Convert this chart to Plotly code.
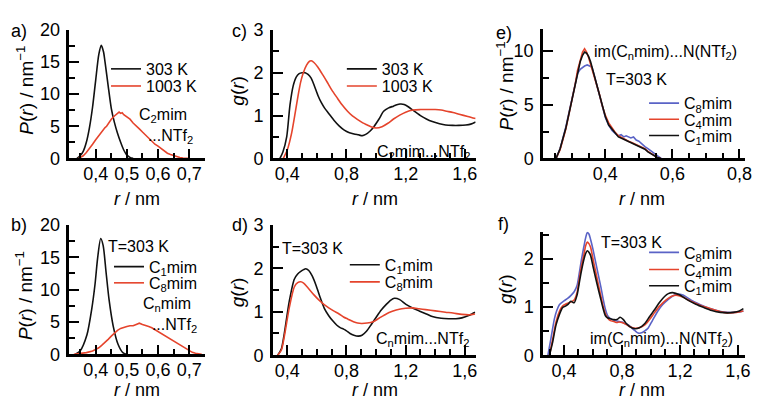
import plotly.graph_objects as go

# ---------------- data ----------------
# a) P(r) of C2mim...NTf2 at two temperatures
a_r_303 = [0.340, 0.350, 0.360, 0.370, 0.380, 0.390, 0.400, 0.410, 0.418, 0.425, 0.430, 0.440,
           0.450, 0.460, 0.470, 0.480, 0.490, 0.500, 0.510, 0.520]
a_p_303 = [0.0, 0.4, 1.1, 2.5, 4.8, 8.0, 12.2, 16.2, 17.6, 16.6, 15.0, 11.3,
           7.8, 5.6, 3.9, 2.5, 1.3, 0.5, 0.15, 0.0]
a_r_1003 = [0.345, 0.36, 0.37, 0.38, 0.39, 0.40, 0.41, 0.42, 0.43, 0.435, 0.44, 0.45, 0.46, 0.465,
            0.47, 0.475, 0.48, 0.485, 0.49, 0.50, 0.51, 0.52, 0.53, 0.54, 0.55, 0.56, 0.57, 0.58,
            0.59, 0.60, 0.61, 0.62, 0.63, 0.64, 0.65, 0.66, 0.67, 0.68, 0.69, 0.70]
a_p_1003 = [0.0, 0.4, 0.9, 1.5, 2.2, 2.9, 3.6, 4.2, 4.8, 5.0, 5.4, 6.1, 6.6, 6.8,
            7.0, 7.2, 7.0, 7.1, 6.8, 6.5, 6.1, 5.5, 5.1, 4.6, 4.1, 3.6, 3.1, 2.6,
            2.2, 1.9, 1.5, 1.1, 0.8, 0.6, 0.4, 0.25, 0.12, 0.06, 0.02, 0.0]

# b) P(r) of CnMim...NTf2 at 303 K
b_r_c1 = [0.335, 0.350, 0.372, 0.387, 0.398, 0.406, 0.416, 0.424, 0.433, 0.443, 0.456, 0.472,
          0.487, 0.498]
b_p_c1 = [0.0, 0.5, 3.0, 6.9, 10.9, 14.8, 17.9, 16.8, 12.8, 8.4, 4.4, 1.5, 0.25, 0.0]
b_r_c8 = [0.33, 0.35, 0.37, 0.39, 0.40, 0.41, 0.42, 0.43, 0.44, 0.45, 0.46, 0.47, 0.48, 0.49,
          0.50, 0.51, 0.52, 0.53, 0.54, 0.55, 0.56, 0.57, 0.58, 0.59, 0.60, 0.61, 0.62, 0.63,
          0.64, 0.65, 0.66, 0.67, 0.68, 0.69, 0.70, 0.71, 0.72, 0.73, 0.74]
b_p_c8 = [0.0, 0.1, 0.25, 0.5, 0.75, 1.0, 1.4, 1.8, 2.3, 2.8, 3.3, 3.7, 4.0, 4.2,
          4.3, 4.4, 4.4, 4.6, 4.8, 4.6, 4.5, 4.3, 4.1, 3.8, 3.6, 3.3, 3.0, 2.7,
          2.4, 2.0, 1.7, 1.4, 1.1, 0.8, 0.55, 0.3, 0.15, 0.05, 0.0]

# c) g(r) of C2mim...NTf2 at two temperatures
c_r_303 = [0.35, 0.37, 0.396, 0.418, 0.44, 0.46, 0.48, 0.50, 0.52, 0.54, 0.56, 0.58, 0.607,
           0.63, 0.651, 0.68, 0.718, 0.75, 0.785, 0.82, 0.851, 0.88, 0.907, 0.93, 0.96, 0.985,
           1.02, 1.051, 1.085, 1.118, 1.14, 1.162, 1.19, 1.22, 1.251, 1.30, 1.34, 1.38, 1.429,
           1.47, 1.518, 1.56, 1.607, 1.64, 1.673]
c_g_303 = [0.0, 0.15, 0.51, 1.25, 1.7, 1.9, 1.98, 2.0, 2.0, 1.96, 1.88, 1.72, 1.47,
           1.3, 1.18, 1.05, 0.88, 0.76, 0.66, 0.6, 0.57, 0.55, 0.53, 0.56, 0.64, 0.74,
           0.92, 1.1, 1.18, 1.22, 1.25, 1.27, 1.26, 1.2, 1.12, 1.0, 0.92, 0.86, 0.81,
           0.78, 0.77, 0.77, 0.78, 0.8, 0.85]
c_r_1003 = [0.373, 0.40, 0.429, 0.45, 0.473, 0.49, 0.507, 0.53, 0.55, 0.562, 0.58, 0.607, 0.64,
            0.673, 0.70, 0.74, 0.77, 0.807, 0.84, 0.873, 0.91, 0.94, 0.97, 1.0, 1.04, 1.08,
            1.118, 1.16, 1.2, 1.251, 1.3, 1.35, 1.40, 1.44, 1.48, 1.52, 1.562, 1.62, 1.673]
c_g_1003 = [0.0, 0.2, 0.59, 1.0, 1.47, 1.78, 1.99, 2.18, 2.27, 2.28, 2.24, 2.13, 1.95,
            1.76, 1.6, 1.4, 1.25, 1.1, 0.99, 0.91, 0.83, 0.78, 0.73, 0.71, 0.74, 0.82,
            0.92, 1.01, 1.08, 1.13, 1.14, 1.14, 1.14, 1.13, 1.1, 1.07, 1.03, 0.98, 0.93]

# d) g(r) of Cnmim...NTf2 at 303 K
d_r_c1 = [0.335, 0.36, 0.38, 0.413, 0.447, 0.47, 0.491, 0.51, 0.524, 0.545, 0.569, 0.595,
          0.624, 0.65, 0.68, 0.71, 0.735, 0.76, 0.78, 0.80, 0.824, 0.85, 0.88, 0.905, 0.935,
          0.97, 1.002, 1.035, 1.069, 1.10, 1.124, 1.16, 1.202, 1.25, 1.291, 1.34, 1.38, 1.44,
          1.491, 1.54, 1.58, 1.63, 1.669]
d_g_c1 = [0.0, 0.15, 0.51, 1.24, 1.75, 1.87, 1.93, 1.97, 1.99, 1.95, 1.82, 1.6,
          1.31, 1.08, 0.91, 0.78, 0.69, 0.63, 0.6, 0.56, 0.5, 0.46, 0.44, 0.46, 0.55,
          0.72, 0.88, 1.04, 1.17, 1.27, 1.31, 1.28, 1.17, 1.08, 1.02, 0.95, 0.89, 0.85,
          0.84, 0.84, 0.86, 0.92, 0.99]
d_r_c8 = [0.335, 0.36, 0.38, 0.413, 0.447, 0.47, 0.491, 0.51, 0.535, 0.58, 0.62, 0.647, 0.68,
          0.713, 0.75, 0.78, 0.81, 0.847, 0.875, 0.902, 0.94, 0.98, 1.02, 1.069, 1.11, 1.157,
          1.2, 1.247, 1.29, 1.335, 1.4, 1.469, 1.52, 1.58, 1.63, 1.669]
d_g_c8 = [0.0, 0.12, 0.44, 1.09, 1.57, 1.67, 1.69, 1.66, 1.57, 1.39, 1.25, 1.17, 1.09,
          1.02, 0.95, 0.88, 0.83, 0.77, 0.74, 0.73, 0.74, 0.77, 0.85, 0.95, 1.01, 1.06,
          1.08, 1.09, 1.07, 1.05, 1.02, 0.99, 0.97, 0.94, 0.93, 0.95]

# e) P(r) of im(Cnmim)...N(NTf2) at 303 K
e_r_c1 = [0.253, 0.265, 0.282, 0.29, 0.302, 0.31, 0.317, 0.325, 0.332, 0.338, 0.344, 0.35,
          0.356, 0.365, 0.376, 0.383, 0.39, 0.40, 0.41, 0.42, 0.43, 0.439, 0.45, 0.46, 0.469,
          0.48, 0.49, 0.50, 0.508, 0.518, 0.527, 0.537, 0.547, 0.555, 0.565]
e_p_c1 = [0.0, 0.9, 2.8, 4.0, 5.7, 7.0, 8.1, 9.0, 9.6, 9.9, 9.8, 9.5,
          9.0, 7.9, 6.6, 5.8, 4.9, 3.9, 3.1, 2.7, 2.3, 2.0, 1.85, 1.7, 1.6,
          1.45, 1.3, 1.15, 1.0, 0.85, 0.6, 0.4, 0.2, 0.08, 0.0]
e_r_c4 = e_r_c1
e_p_c4 = [0.0, 0.8, 2.7, 3.9, 5.6, 6.9, 8.2, 9.2, 9.9, 10.2, 9.9, 9.4,
          8.8, 7.8, 6.7, 5.9, 5.0, 4.0, 3.3, 2.8, 2.4, 2.1, 1.9, 1.75, 1.6,
          1.45, 1.3, 1.2, 1.05, 0.9, 0.65, 0.45, 0.2, 0.08, 0.0]
e_r_c8 = [0.253, 0.265, 0.282, 0.29, 0.302, 0.31, 0.317, 0.325, 0.332, 0.338, 0.346, 0.352,
          0.36, 0.368, 0.376, 0.383, 0.39, 0.40, 0.41, 0.42, 0.43, 0.439, 0.447, 0.455, 0.462,
          0.469, 0.476, 0.484, 0.492, 0.50, 0.508, 0.518, 0.527, 0.537, 0.547, 0.557, 0.567]
e_p_c8 = [0.0, 0.9, 2.9, 4.1, 5.8, 7.0, 7.9, 8.3, 8.5, 8.6, 8.7, 8.6,
          8.5, 7.6, 6.6, 5.8, 4.9, 3.8, 3.1, 2.6, 2.3, 2.1, 2.2, 2.0, 2.1,
          2.0, 1.9, 2.0, 1.7, 1.6, 1.35, 1.1, 0.9, 0.7, 0.45, 0.2, 0.0]

# f) g(r) of im(Cnmim)...N(NTf2) at 303 K
f_r_c8 = [0.289, 0.31, 0.334, 0.35, 0.368, 0.40, 0.425, 0.45, 0.47, 0.49, 0.504, 0.52, 0.538,
          0.55, 0.561, 0.572, 0.584, 0.60, 0.618, 0.636, 0.655, 0.67, 0.686, 0.70, 0.72, 0.754,
          0.78, 0.799, 0.82, 0.844, 0.87, 0.89, 0.912, 0.94, 0.96, 0.98, 1.01, 1.048, 1.08,
          1.116, 1.15, 1.184, 1.22, 1.275, 1.32, 1.366, 1.42, 1.48, 1.53, 1.57, 1.61, 1.638]
f_g_c8 = [0.0, 0.35, 0.76, 0.93, 1.05, 1.13, 1.18, 1.25, 1.32, 1.45, 1.68, 1.98, 2.27,
          2.45, 2.55, 2.52, 2.40, 2.2, 1.94, 1.68, 1.41, 1.17, 0.95, 0.83, 0.76, 0.72,
          0.70, 0.69, 0.66, 0.63, 0.56, 0.51, 0.46, 0.47, 0.51, 0.56, 0.72, 0.92, 1.05,
          1.15, 1.23, 1.27, 1.25, 1.15, 1.08, 1.02, 0.96, 0.91, 0.89, 0.89, 0.9, 0.92]
f_r_c4 = [0.30, 0.32, 0.345, 0.37, 0.39, 0.41, 0.436, 0.455, 0.47, 0.49, 0.504, 0.52, 0.538,
          0.55, 0.561, 0.572, 0.584, 0.60, 0.618, 0.636, 0.655, 0.67, 0.686, 0.70, 0.72, 0.745,
          0.765, 0.78, 0.799, 0.83, 0.856, 0.89, 0.92, 0.958, 0.99, 1.026, 1.06, 1.105, 1.14,
          1.173, 1.22, 1.275, 1.33, 1.388, 1.44, 1.50, 1.55, 1.59, 1.638]
f_g_c4 = [0.0, 0.3, 0.69, 0.92, 1.02, 1.06, 1.09, 1.12, 1.15, 1.3, 1.55, 1.85, 2.1,
          2.28, 2.35, 2.32, 2.24, 2.0, 1.74, 1.48, 1.22, 1.02, 0.86, 0.78, 0.72, 0.70,
          0.68, 0.69, 0.68, 0.64, 0.59, 0.56, 0.57, 0.63, 0.74, 0.89, 1.02, 1.15, 1.22,
          1.25, 1.21, 1.12, 1.05, 0.99, 0.94, 0.89, 0.88, 0.89, 0.92]
f_r_c1 = [0.30, 0.32, 0.345, 0.37, 0.39, 0.41, 0.425, 0.447, 0.47, 0.49, 0.504, 0.52, 0.538,
          0.55, 0.561, 0.572, 0.584, 0.60, 0.618, 0.636, 0.655, 0.67, 0.686, 0.70, 0.72, 0.745,
          0.765, 0.788, 0.81, 0.83, 0.856, 0.89, 0.92, 0.958, 0.99, 1.026, 1.06, 1.094, 1.12,
          1.15, 1.2, 1.252, 1.31, 1.366, 1.42, 1.48, 1.53, 1.57, 1.61, 1.638]
f_g_c1 = [0.0, 0.25, 0.63, 0.86, 0.99, 1.02, 1.05, 1.12, 1.09, 1.25, 1.48, 1.75, 2.0,
          2.12, 2.17, 2.14, 2.07, 1.85, 1.61, 1.38, 1.15, 0.97, 0.82, 0.78, 0.76, 0.74,
          0.74, 0.79, 0.74, 0.66, 0.59, 0.55, 0.57, 0.66, 0.8, 0.95, 1.1, 1.22, 1.28,
          1.3, 1.25, 1.15, 1.06, 0.99, 0.93, 0.89, 0.88, 0.89, 0.92, 0.97]

# ---------------- styling ----------------
W, H = 766, 408
FONT = "Liberation Sans, Arial, Helvetica, sans-serif"
BLACK = "#111111"
RED = "#e5442c"
BLUE = "#5a63c6"


def fx(x):
    return x / W


def fy(y):
    return 1 - y / H


# panel -> (axis suffix, left, right, top, bottom) in pixels
panels = {
    "a": ("", 70, 207, 21, 156),
    "b": ("2", 70, 207, 226, 362),
    "c": ("3", 275.5, 480, 21, 156),
    "d": ("4", 275.5, 480, 226, 363),
    "e": ("5", 548, 752, 20, 156),
    "f": ("6", 548, 752, 233, 363),
}
# panel -> (x range, x dtick, x minor, y range, y dtick, y minor)
scales = {
    "a": ([0.3155, 0.751], 0.1, 0.05, [0, 20], 5, 2.5),
    "b": ([0.3155, 0.751], 0.1, 0.05, [0, 20], 5, 2.5),
    "c": ([0.303, 1.673], 0.4, 0.1, [0, 3], 1, 0.5),
    "d": ([0.303, 1.673], 0.4, 0.1, [0, 3], 1, 0.5),
    "e": ([0.214, 0.817], 0.2, 0.05, [0, 12.05], 5, 2.5),
    "f": ([0.255, 1.65], 0.4, 0.1, [0, 2.57], 1, 0.5),
}

fig = go.Figure()
layout = dict(
    width=W, height=H, margin=dict(l=0, r=0, t=0, b=0),
    paper_bgcolor="white", plot_bgcolor="white",
    separators=",.", showlegend=True,
    font=dict(family=FONT, size=16, color="black"),
)

for key, (suf, x0, x1, yt, yb) in panels.items():
    xr, xd, xm, yr, yd, ym = scales[key]
    common = dict(
        showline=True, linewidth=2.5, linecolor="black", showgrid=False, zeroline=False,
        ticks="inside", tickcolor="black", tickwidth=1.5, ticklen=10,
        tickfont=dict(family=FONT, size=18, color="black"), tick0=0,
        fixedrange=True,
    )
    layout["xaxis" + suf] = dict(
        common, domain=[fx(x0), fx(x1)], range=xr, dtick=xd,
        anchor="y" + suf, ticklabelstandoff=-3,
        minor=dict(ticks="inside", ticklen=6, tickwidth=1.5, tickcolor="black", dtick=xm, tick0=0),
    )
    layout["yaxis" + suf] = dict(
        common, domain=[fy(yb), fy(yt)], range=yr, dtick=yd,
        anchor="x" + suf, ticklabelstandoff=3,
        minor=dict(ticks="inside", ticklen=6, tickwidth=1.5, tickcolor="black", dtick=ym, tick0=0),
    )

# curves: (panel, r, value, legend name, colour, legend text start x, legend y, smooth)
curves = [
    ("a", a_r_303, a_p_303, "303 K", BLACK, 147, 62, True),
    ("a", a_r_1003, a_p_1003, "1003 K", RED, 147, 80, False),
    ("b", b_r_c1, b_p_c1, "C<sub>1</sub>mim", BLACK, 150, 270, True),
    ("b", b_r_c8, b_p_c8, "C<sub>8</sub>mim", RED, 150, 287, False),
    ("c", c_r_303, c_g_303, "303 K", BLACK, 385, 62, True),
    ("c", c_r_1003, c_g_1003, "1003 K", RED, 385, 80, True),
    ("d", d_r_c1, d_g_c1, "C<sub>1</sub>mim", BLACK, 388, 268, True),
    ("d", d_r_c8, d_g_c8, "C<sub>8</sub>mim", RED, 388, 286, True),
    ("e", e_r_c8, e_p_c8, "C<sub>8</sub>mim", BLUE, 690, 98, False),
    ("e", e_r_c4, e_p_c4, "C<sub>4</sub>mim", RED, 690, 115, False),
    ("e", e_r_c1, e_p_c1, "C<sub>1</sub>mim", BLACK, 690, 132, False),
    ("f", f_r_c8, f_g_c8, "C<sub>8</sub>mim", BLUE, 690, 255, True),
    ("f", f_r_c4, f_g_c4, "C<sub>4</sub>mim", RED, 690, 273, True),
    ("f", f_r_c1, f_g_c1, "C<sub>1</sub>mim", BLACK, 690, 290, True),
]

for i, (key, r, v, name, color, tx, ty, smooth) in enumerate(curves):
    suf = panels[key][0]
    lg = "legend" if i == 0 else "legend%d" % (i + 1)
    fig.add_trace(go.Scatter(
        x=r, y=v, mode="lines", name=name,
        line=dict(color=color, width=1.6, shape="spline" if smooth else "linear", smoothing=0.7),
        xaxis="x" + suf, yaxis="y" + suf, legend=lg, showlegend=True, hoverinfo="skip",
    ))
    layout[lg] = dict(
        x=fx(tx - 40), y=fy(ty), xanchor="left", yanchor="middle",
        bgcolor="rgba(0,0,0,0)", borderwidth=0,
        font=dict(family=FONT, size=16, color="black"),
        itemclick=False, itemdoubleclick=False,
    )

annotations = []


def note(text, x, y, size=16, anchor="left", angle=0):
    annotations.append(dict(
        text=text, x=fx(x), y=fy(y), xref="paper", yref="paper",
        xanchor=anchor, yanchor="middle", align="left", showarrow=False, textangle=angle,
        font=dict(family=FONT, size=size, color="black"),
    ))


# panel letters
for lab, x, y in [("a)", 9, 22), ("c)", 232, 22), ("e)", 499, 24),
                  ("b)", 9, 226), ("d)", 232, 226), ("f)", 501, 225)]:
    note(lab, x, y, size=18)

# axis titles
PR = "<i>P</i>(<i>r</i>) / nm<sup>\u22121</sup>"
GR = "<i>g</i>(<i>r</i>)"
RN = "<i>r</i> / nm"
for t, x, y in [(PR, 25, 84), (GR, 240, 85), (PR, 510, 80),
                (PR, 25, 300), (GR, 240, 297), (GR, 510, 293)]:
    note(t, x, y, size=19, anchor="center", angle=-90)
for x, y in [(138, 199), (378, 199), (648, 199), (138, 400), (378, 400), (648, 400)]:
    note(RN, x, y, size=18, anchor="center")

# in-panel labels (two-line labels are one block each)
note("C<sub>2</sub>mim<br>&nbsp;&nbsp;...NTf<sub>2</sub>", 138, 122)
note("T=303 K", 107, 249)
note("C<sub>n</sub>mim<br>&nbsp;&nbsp;...NTf<sub>2</sub>", 142, 321)
note("C<sub>2</sub>mim...NTf<sub>2</sub>", 378, 150)
note("T=303 K", 283, 251)
note("C<sub>n</sub>mim...NTf<sub>2</sub>", 377, 346)
note("im(C<sub>n</sub>mim)...N(NTf<sub>2</sub>)", 597, 45)
note("T=303 K", 610, 73)
note("T=303 K", 605, 244)
note("im(C<sub>n</sub>mim)...N(NTf<sub>2</sub>)", 593, 346)

layout["annotations"] = annotations
fig.update_layout(**layout)
fig.write_html("out.html")
